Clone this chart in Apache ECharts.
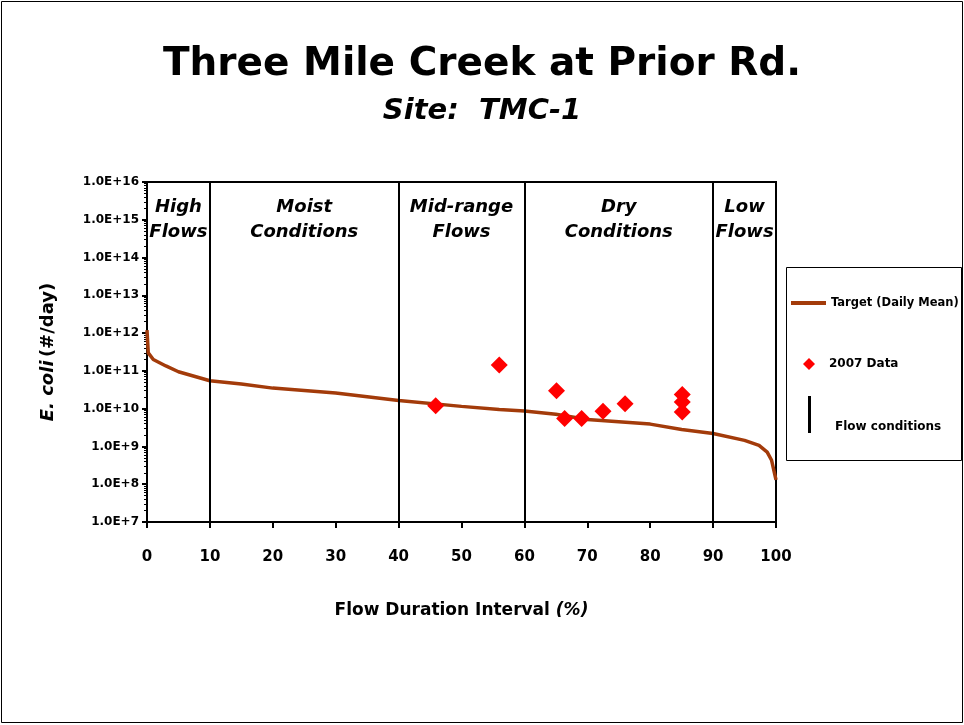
<!DOCTYPE html>
<html>
<head>
<meta charset="utf-8">
<script src="https://cdn.jsdelivr.net/npm/echarts@6/dist/echarts.min.js"></script>
<style>
  html, body { margin: 0; padding: 0; background: #fff; }
  #chart { width: 964px; height: 725px; }
</style>
</head>
<body>
<div id="chart"></div>
<script>
// flow duration interval (%) and target load (#/day)
var targetX = [0, 0.2, 1, 3, 5, 10, 15, 20, 30, 40, 50, 56, 60, 65, 70, 75, 80, 85, 90, 95, 97.3, 98.6, 99.3, 100];
var targetY = [1.2e12, 3.0e11, 2.0e11, 1.35e11, 9.5e10, 5.5e10, 4.5e10, 3.5e10, 2.6e10, 1.65e10, 1.15e10, 9.5e9, 8.7e9, 7.1e9, 5.2e9, 4.5e9, 3.9e9, 2.8e9, 2.2e9, 1.45e9, 1.07e9, 7.1e8, 4.3e8, 1.3e8];

// 2007 samples
var sampleX = [45.9, 56.0, 65.1, 66.4, 69.1, 72.5, 76.0, 85.1, 85.1, 85.1];
var sampleY = [1.19e10, 1.43e11, 2.97e10, 5.5e9, 5.5e9, 8.6e9, 1.34e10, 2.38e10, 1.51e10, 8.2e9];

// flow condition boundaries and zone names
var zoneBreaks = [0, 10, 40, 60, 90, 100];
var zoneNames = ['High\nFlows', 'Moist\nConditions', 'Mid-range\nFlows', 'Dry\nConditions', 'Low\nFlows'];

var font = 'DejaVu Sans';

function pairs(xs, ys) {
  var out = [];
  for (var i = 0; i < xs.length; i++) out.push([xs[i], ys[i]]);
  return out;
}

var zoneAreas = [];
for (var i = 0; i < zoneNames.length; i++) {
  zoneAreas.push([{ name: zoneNames[i], xAxis: zoneBreaks[i] }, { xAxis: zoneBreaks[i + 1] }]);
}
var boundaryLines = zoneBreaks.slice(1, -1).map(function (b) { return { xAxis: b }; });

function wrapName(name) { return '{t|' + name + '}'; }

var chart = echarts.init(document.getElementById('chart'));
chart.setOption({
  animation: false,
  title: {
    text: 'Three Mile Creek at Prior Rd.',
    subtext: 'Site:  TMC-1',
    left: 'center',
    top: 40,
    itemGap: 13,
    textStyle: { fontFamily: font, fontWeight: 'bold', fontSize: 39, color: '#000' },
    subtextStyle: { fontFamily: font, fontWeight: 'bold', fontStyle: 'italic', fontSize: 29, color: '#000' }
  },
  graphic: [
    { type: 'rect', shape: { x: 1.5, y: 1.5, width: 961, height: 721 }, style: { fill: null, stroke: '#000', lineWidth: 1 }, silent: true },
    { type: 'rect', shape: { x: 786.5, y: 267.5, width: 175, height: 193 }, style: { fill: '#fff', stroke: '#000', lineWidth: 1 }, z: 0, silent: true }
  ],
  legend: [
    {
      data: [{ name: 'Target (Daily Mean)', icon: 'rect' }], left: 791, top: 297, padding: 0,
      itemWidth: 35, itemHeight: 4,
      textStyle: { fontFamily: font, fontWeight: 'bold', fontSize: 11.5, color: '#000' }
    },
    {
      data: [{ name: '2007 Data', icon: 'diamond' }], left: 803, top: 358, padding: 0,
      itemWidth: 12, itemHeight: 12,
      formatter: wrapName,
      textStyle: { rich: { t: { fontFamily: font, fontWeight: 'bold', fontSize: 12, color: '#000', padding: [0, 0, 0, 9] } } }
    },
    {
      data: [{ name: 'Flow conditions', icon: 'rect' }], left: 808, top: 396, padding: 0,
      itemWidth: 3, itemHeight: 37,
      formatter: wrapName,
      textStyle: { rich: { t: { fontFamily: font, fontWeight: 'bold', fontSize: 12, color: '#000', padding: [24, 0, 0, 19] } } }
    }
  ],
  grid: {
    left: 147, right: 188, top: 182, bottom: 203,
    show: true, borderColor: '#000', borderWidth: 2, backgroundColor: 'transparent'
  },
  xAxis: {
    type: 'value', min: 0, max: 100, interval: 10,
    name: '{b|Flow Duration Interval }{i|(%)}',
    nameLocation: 'middle', nameGap: 80,
    nameTextStyle: {
      rich: {
        b: { fontFamily: font, fontWeight: 'bold', fontSize: 17, color: '#000' },
        i: { fontFamily: font, fontWeight: 'bold', fontStyle: 'italic', fontSize: 17, color: '#000' }
      }
    },
    axisLine: { lineStyle: { color: '#000', width: 2 } },
    axisTick: { show: true, length: 6, lineStyle: { color: '#000', width: 2 } },
    axisLabel: { fontFamily: font, fontWeight: 'bold', fontSize: 15, color: '#000', margin: 28 },
    splitLine: { show: false }
  },
  yAxis: {
    type: 'log', logBase: 10, min: 1e7, max: 1e16, splitNumber: 9,
    name: '{i|E. coli} {b|(#/day)}',
    nameLocation: 'middle', nameGap: 90, nameRotate: 90,
    nameTextStyle: {
      rich: {
        b: { fontFamily: font, fontWeight: 'bold', fontSize: 18, color: '#000' },
        i: { fontFamily: font, fontWeight: 'bold', fontStyle: 'italic', fontSize: 18, color: '#000' }
      }
    },
    axisLine: { lineStyle: { color: '#000', width: 2 } },
    axisTick: { show: true, length: 5, lineStyle: { color: '#000', width: 2 } },
    minorTick: { show: true, splitNumber: 9, length: 3, lineStyle: { color: '#000', width: 1 } },
    axisLabel: {
      fontFamily: font, fontWeight: 'bold', fontSize: 12, color: '#000', margin: 8,
      formatter: function (v) { return v.toExponential(1).toUpperCase(); }
    },
    splitLine: { show: false }
  },
  series: [
    {
      name: 'Flow conditions',
      type: 'line',
      data: [],
      itemStyle: { color: '#000' },
      lineStyle: { color: '#000' },
      markLine: {
        silent: true, symbol: 'none',
        label: { show: false },
        lineStyle: { color: '#000', width: 2, type: 'solid' },
        data: boundaryLines
      },
      markArea: {
        silent: true,
        itemStyle: { color: 'rgba(0,0,0,0)' },
        label: {
          show: true, position: 'insideTop', distance: 13,
          fontFamily: font, fontWeight: 'bold', fontStyle: 'italic', fontSize: 18, lineHeight: 25, color: '#000', align: 'center'
        },
        data: zoneAreas
      }
    },
    {
      name: 'Target (Daily Mean)',
      type: 'line',
      data: pairs(targetX, targetY),
      showSymbol: false, symbol: 'none',
      lineStyle: { color: '#a33b0a', width: 3.5 },
      itemStyle: { color: '#a33b0a' },
      z: 3
    },
    {
      name: '2007 Data',
      type: 'scatter',
      data: pairs(sampleX, sampleY),
      symbol: 'diamond', symbolSize: 17,
      itemStyle: { color: '#ff0000', opacity: 1 },
      z: 4
    }
  ]
});
</script>
</body>
</html>
